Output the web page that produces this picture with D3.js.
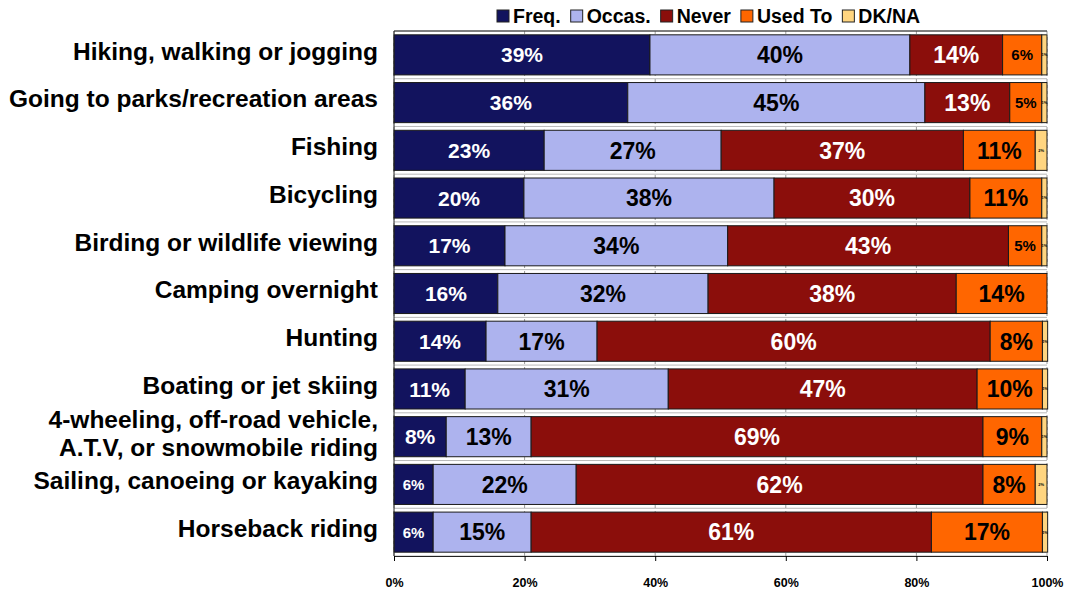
<!DOCTYPE html>
<html>
<head>
<meta charset="utf-8">
<script src="https://cdn.jsdelivr.net/npm/d3@7"></script>
<style>
  body { margin: 0; background: #fff; }
  text { font-family: "Liberation Sans", Arial, sans-serif; font-weight: bold; }
</style>
</head>
<body>
<div id="chart"></div>
<script>
// categories, top to bottom
var activities = [
  ["Hiking, walking or jogging"],
  ["Going to parks/recreation areas"],
  ["Fishing"],
  ["Bicycling"],
  ["Birding or wildlife viewing"],
  ["Camping overnight"],
  ["Hunting"],
  ["Boating or jet skiing"],
  ["4-wheeling, off-road vehicle,", "A.T.V, or snowmobile riding"],
  ["Sailing, canoeing or kayaking"],
  ["Horseback riding"]
]
var seriesNames = ["Freq.", "Occas.", "Never", "Used To", "DK/NA"]

// shares (percent)
var freq    = [39.2, 35.8, 23.0, 19.9, 17.0, 15.9, 14.1, 10.9, 8.0, 6.0, 6.0]
var occas   = [39.8, 45.5, 27.1, 38.3, 34.1, 32.2, 17.0, 31.1, 13.0, 21.9, 15.0]
var never   = [14.2, 13.0, 37.1, 30.0, 43.0, 38.0, 60.2, 47.3, 69.2, 62.3, 61.3]
var usedTo  = [6.0, 4.9, 11.0, 11.0, 5.1, 13.9, 8.0, 10.0, 9.0, 8.0, 17.0]
var dkna    = [0.8, 0.8, 1.8, 0.8, 0.8, 0.0, 0.8, 0.8, 0.8, 1.8, 0.8]
// printed labels
var freqLbl   = [39, 36, 23, 20, 17, 16, 14, 11, 8, 6, 6]
var occasLbl  = [40, 45, 27, 38, 34, 32, 17, 31, 13, 22, 15]
var neverLbl  = [14, 13, 37, 30, 43, 38, 60, 47, 69, 62, 61]
var usedToLbl = [6, 5, 11, 11, 5, 14, 8, 10, 9, 8, 17]
var dknaLbl   = [1, 1, 2, 1, 1, 0, 1, 1, 1, 2, 1]
var xTicks = [0, 20, 40, 60, 80, 100]

var colors = ["#12135e", "#adb3ee", "#8b0e0b", "#ff6600", "#ffd580"]
var textColors = ["#fff", "#000", "#fff", "#000", "#000"]

var width = 1073, height = 592
var margin = {top: 31, right: 26, bottom: 36, left: 394}

var svg = d3.select("#chart").append("svg")
    .attr("width", width)
    .attr("height", height)

var g = svg.append("g")
    .attr("transform", "translate(" + margin.left + "," + margin.top + ")")

var innerW = width - margin.left - margin.right
var innerH = height - margin.top - margin.bottom

var x = d3.scaleLinear().domain([0, 100]).range([0, innerW])
var y = d3.scaleBand()
    .domain(d3.range(activities.length))
    .range([0, innerH])
    .paddingInner(0.16)
    .paddingOuter(0.08)

// build rows
var values = [freq, occas, never, usedTo, dkna]
var labels = [freqLbl, occasLbl, neverLbl, usedToLbl, dknaLbl]
var rows = activities.map(function(a, i) {
  var row = {name: a}
  seriesNames.forEach(function(s, k) { row[s] = values[k][i] })
  return row
})
var stacked = d3.stack().keys(seriesNames)(rows)

// gap lines between rows
var step = y.step()
d3.range(activities.length + 1).forEach(function(i) {
  var yy = i * step
  g.append("line")
    .attr("x1", 0).attr("x2", innerW)
    .attr("y1", yy).attr("y2", yy)
    .attr("stroke", "#b8b8b8")
    .attr("stroke-width", 1)
})

// vertical gridlines / ticks (show in the gaps)
g.selectAll(".vgrid")
  .data(xTicks)
  .enter().append("line")
    .attr("x1", function(d) { return x(d) })
    .attr("x2", function(d) { return x(d) })
    .attr("y1", 0).attr("y2", innerH)
    .attr("stroke", "#9a9a9a")
    .attr("stroke-dasharray", "3,3")

// bars
stacked.forEach(function(layer, k) {
  g.selectAll(".bar" + k)
    .data(layer)
    .enter().append("rect")
      .attr("x", function(d) { return x(d[0]) })
      .attr("y", function(d, i) { return y(i) })
      .attr("width", function(d) { return x(d[1]) - x(d[0]) })
      .attr("height", y.bandwidth())
      .attr("fill", colors[k])
      .attr("stroke", function(d) { return (d[1] - d[0]) > 0 ? "#1a1a1a" : "none" })
      .attr("stroke-width", 1)

  g.selectAll(".lbl" + k)
    .data(layer)
    .enter().append("text")
      .attr("x", function(d) { return (x(d[0]) + x(d[1])) / 2 })
      .attr("y", function(d, i) { return y(i) + y.bandwidth() / 2 })
      .attr("dy", "0.36em")
      .attr("text-anchor", "middle")
      .attr("fill", textColors[k])
      .style("font-size", function(d) {
        var w = x(d[1]) - x(d[0])
        if (k == 4) return "4px"
        if (w < 45) return "15px"
        return k == 0 ? "21px" : "23px"
      })
      .text(function(d, i) {
        if (d[1] - d[0] <= 0) return ""
        return labels[k][i] + "%"
      })
})

// plot frame
g.append("line")
  .attr("x1", 0).attr("x2", innerW)
  .attr("y1", 0).attr("y2", 0)
  .attr("stroke", "#222")
g.append("line")
  .attr("x1", 0).attr("x2", 0)
  .attr("y1", 0).attr("y2", innerH)
  .attr("stroke", "#222")

// x axis
var xAxis = g.append("g")
    .attr("transform", "translate(0," + innerH + ")")
    .call(d3.axisBottom(x).tickValues(xTicks).tickSize(5).tickPadding(17)
      .tickFormat(function(d) { return d + "%" }))
xAxis.select(".domain").attr("stroke", "#222")
xAxis.selectAll("text").style("font-size", "12.5px").attr("fill", "#000")

// category labels
activities.forEach(function(lines, i) {
  var cy = y(i) + y.bandwidth() / 2
  var t = svg.append("text")
    .attr("x", 378)
    .attr("text-anchor", "end")
    .attr("fill", "#000")
    .style("font-size", "24.5px")
  lines.forEach(function(line, j) {
    t.append("tspan")
      .attr("x", 378)
      .attr("y", margin.top + cy + (j - (lines.length - 1) / 2) * 28 - 4)
      .attr("dy", "0.36em")
      .text(line)
  })
})

// legend
var legend = svg.append("g").attr("transform", "translate(497,16)")
var lx = 0
seriesNames.forEach(function(s, k) {
  var item = legend.append("g").attr("transform", "translate(" + lx + ",0)")
  item.append("rect")
    .attr("x", 0).attr("y", -6)
    .attr("width", 12).attr("height", 12)
    .attr("fill", colors[k])
    .attr("stroke", "#222")
  var t = item.append("text")
    .attr("x", 16).attr("y", 0)
    .attr("dy", "0.36em")
    .style("font-size", "19.5px")
    .text(s)
  lx += 16 + t.node().getComputedTextLength() + 10
})
</script>
</body>
</html>
